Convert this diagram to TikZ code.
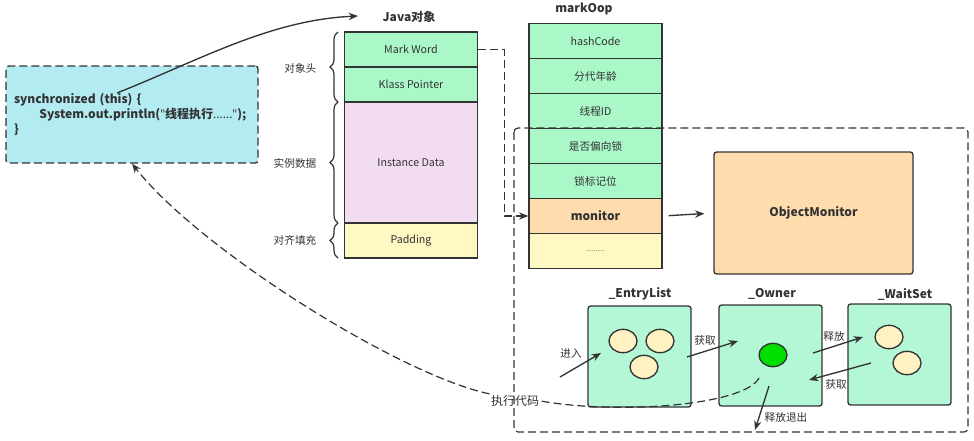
\documentclass[tikz,border=0pt]{standalone}
\usepackage{fontspec}
\setmainfont{Noto Sans CJK SC}
\newfontfamily\latinfont{Noto Sans}
\usepackage{tikz}
\usetikzlibrary{arrows.meta,shapes.geometric,decorations.pathreplacing}
\definecolor{line-gray}{HTML}{333333}
\definecolor{cell-green}{HTML}{AAF7C8}
\definecolor{cell-pink}{HTML}{F2DCF2}
\definecolor{cell-yellow}{HTML}{FFF8C2}
\definecolor{cell-orange}{HTML}{FFDCAD}
\definecolor{code-cyan}{HTML}{B2EBF2}
\definecolor{box-green}{HTML}{B3F7D6}
\definecolor{ball-yellow}{HTML}{FFF2C2}
\definecolor{ball-green}{HTML}{00E000}
\tikzset{
    cell/.style = {draw=line-gray, line width=1pt, rectangle, minimum width=99.75pt, minimum height=26.25pt, inner sep=0pt, font=\fontsize{8}{10}\selectfont, text=line-gray},
    title/.style = {font=\small\bfseries, text=line-gray},
    plain-label/.style = {font=\fontsize{8}{10}\selectfont, text=line-gray, inner sep=1pt},
    code-box/.style = {draw=line-gray, fill=code-cyan, line width=1pt, dash pattern=on 6pt off 3pt, rounded corners=2pt, minimum height=72.75pt, text width=177pt, inner xsep=6pt, align=left, font=\small\bfseries, text=line-gray},
    monitor-box/.style = {draw=line-gray, fill=box-green, line width=1pt, rounded corners=2pt, minimum width=77.25pt, minimum height=75.75pt},
    ball/.style = {draw=line-gray, fill=ball-yellow, line width=1pt, ellipse, minimum width=21pt, minimum height=17.5pt, inner sep=0pt},
    brace-line/.style = {draw=line-gray, line width=0.9pt, decorate, decoration={brace, amplitude=6pt}},
    dash-line/.style = {draw=line-gray, line width=0.9pt, dash pattern=on 6pt off 3pt},
    arrow-line/.style = {draw=line-gray, line width=1pt, -{Stealth[length=7pt, width=5.5pt]}},
}

\begin{document}
\begin{tikzpicture}[x=0.75pt, y=-0.75pt]
\useasboundingbox (0,0) rectangle (974,440);

\node[code-box] (code) at (132,114.5) {synchronized (this) \{\\\hspace*{19pt}\mbox{System.out.println({\latinfont\bfseries"}线程执行{\latinfont\bfseries......"});}\\\}};
\coordinate (this-ref) at (117,93);
\coordinate (java-in) at (358,16);
\draw[arrow-line] (this-ref) .. controls (200,60) and (270,20) .. (java-in);

\node[title] (java-title) at (409,17) {Java对象};
\node[cell, fill=cell-green] (mark-word) at (411,49.5) {Mark Word};
\node[cell, fill=cell-green] (klass) at (411,84.5) {Klass Pointer};
\node[cell, fill=cell-pink, minimum height=90.75pt] (instance) at (411,162.5) {Instance Data};
\node[cell, fill=cell-yellow] (padding) at (411,240.5) {Padding};

\draw[brace-line] (338,102) -- (338,32);
\draw[brace-line] (338,223) -- (338,102);
\draw[brace-line] (338,258) -- (338,223);
\node[plain-label, anchor=east] (head-label) at (318,68) {对象头};
\node[plain-label, anchor=east] (data-label) at (318,163) {实例数据};
\node[plain-label, anchor=east] (pad-label) at (318,240) {对齐填充};

\node[title] (markoop-title) at (584,9) {markOop};
\node[cell, fill=cell-green] (hash) at (595.5,41) {hashCode};
\node[cell, fill=cell-green] (age) at (595.5,76) {分代年龄};
\node[cell, fill=cell-green] (thread-id) at (595.5,111) {线程ID};
\node[cell, fill=cell-green] (biased) at (595.5,146) {是否偏向锁};
\node[cell, fill=cell-green] (lock-bits) at (595.5,181) {锁标记位};
\node[cell, fill=cell-orange, font=\small\bfseries] (monitor) at (595.5,216) {monitor};
\node[cell, fill=cell-yellow, font=\tiny] (more) at (595.5,251) {..........};

\draw[dash-line, -{Stealth[length=7pt, width=5.5pt]}] (mark-word.east) -- ++(26,0) |- (monitor.west);

\draw[dash-line, rounded corners=3pt] (514,128) rectangle (968,432);

\node[draw=line-gray, fill=cell-orange, line width=1pt, rounded corners=2pt, minimum width=149.25pt, minimum height=91.5pt, font=\small\bfseries, text=line-gray] (obj-monitor) at (813.5,213) {ObjectMonitor};
\draw[arrow-line, shorten <=4.5pt, shorten >=6.75pt] (monitor.east) -- (obj-monitor.west);

\node[monitor-box] (entry) at (639.5,356.5) {};
\node[monitor-box] (owner) at (770.5,355.5) {};
\node[monitor-box] (wait) at (899.5,354.5) {};
\node[title] (entry-title) at (640,294) {\_EntryList};
\node[title] (owner-title) at (772,294) {\_Owner};
\node[title] (wait-title) at (905,294) {\_WaitSet};

\node[ball] (entry-a) at (623,341) {};
\node[ball] (entry-b) at (660,341) {};
\node[ball] (entry-c) at (644,367) {};
\node[ball, fill=ball-green] (owner-ball) at (773,355) {};
\node[ball] (wait-a) at (889,337) {};
\node[ball] (wait-b) at (907,363) {};

\coordinate (enter-from) at (560,377);
\coordinate (enter-to) at (601,353);
\draw[arrow-line] (enter-from) -- (enter-to);
\node[plain-label] (enter-label) at (571,354) {进入};

\coordinate (get-from) at (687,357);
\coordinate (get-to) at (738,341);
\draw[arrow-line] (get-from) -- (get-to);
\node[plain-label] (get-label) at (705,340) {获取};

\coordinate (release-from) at (813,353);
\coordinate (release-to) at (863,337);
\draw[arrow-line] (release-from) -- (release-to);
\node[plain-label] (release-label) at (834,336) {释放};

\coordinate (regain-from) at (871,363);
\coordinate (regain-to) at (809,380);
\draw[arrow-line] (regain-from) -- (regain-to);
\node[plain-label] (regain-label) at (836,384) {获取};

\coordinate (exit-from) at (769,386);
\coordinate (exit-to) at (755,430);
\draw[arrow-line] (exit-from) -- (exit-to);
\node[plain-label] (exit-label) at (786,417) {释放退出};

\node[plain-label, font=\small] (exec-label) at (515,401) {执行代码};
\coordinate (owner-out) at (759,378);
\draw[dash-line] (owner-out) .. controls (745,405) and (620,415) .. (exec-label.east);
\draw[dash-line, -{Stealth[length=7pt, width=5.5pt]}] (exec-label.north west) .. controls (400,375) and (200,250) .. (code.south);
\end{tikzpicture}
\end{document}
